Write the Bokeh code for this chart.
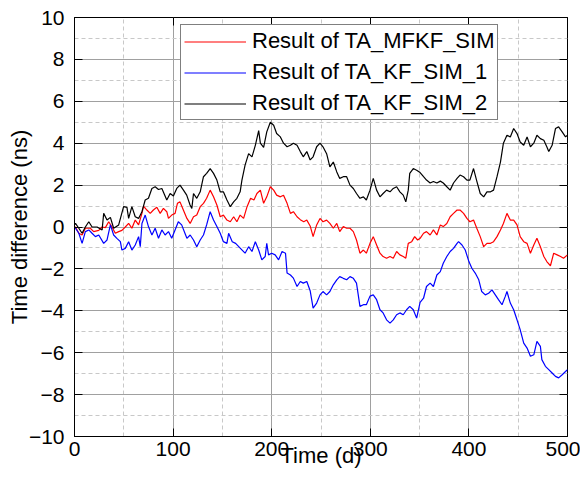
from bokeh.plotting import figure
from bokeh.models import (LinearAxis, SingleIntervalTicker, Range1d, Legend, LegendItem, CustomJSTickFormatter)
from bokeh.embed import file_html
from bokeh.resources import INLINE

# ---------------- data ----------------
mfkf_days = [0, 1, 4.4, 7.7, 11, 16, 19.5, 24.6, 28, 31.3,
             34.7, 38, 41.4, 44.8, 48.1, 51.5, 54.9, 58.2, 61.6, 65,
             68.4, 70, 73.4, 76.8, 80, 83.5, 86.9, 90.2, 93.6, 95.3,
             98.6, 102, 104.4, 107, 110.4, 114, 117.3, 120.7, 124, 127.5,
             130.8, 134, 137.6, 141, 144.4, 147.8, 151, 154.6, 158, 161.4,
             164.7, 168, 171.5, 175, 178.6, 182, 185, 188.5, 191.8, 195,
             198.6, 202, 205, 208.8, 212, 215.6, 219, 222, 225.7, 229,
             232.5, 235.6, 239, 242, 245.6, 249, 252, 255.7, 259, 262.5,
             266, 269, 272.6, 276, 279.4, 282.8, 286, 289.5, 293, 296,
             299.7, 303, 306.4, 309.8, 313, 316.5, 320, 323.3, 326.7, 330,
             333.4, 336, 338.5, 342, 345, 348, 350.5, 354, 357, 360.7,
             364, 367.5, 371, 374, 377.6, 381, 384.4, 388, 391, 394.6,
             398, 401, 404.7, 408, 411.5, 415, 418.3, 422, 425, 428.5,
             432, 435, 438.6, 442, 445.4, 448.8, 452, 455.6, 459, 462.4,
             465.8, 469, 472.5, 476, 479, 482.7, 486, 489.5, 493, 496,
             500]
mfkf_vals = [0, 0, -0.3, -0.38, -0.06, -0.06, -0.22, -0.16, 0, -0.03,
             0.25, 0, -0.3, -0.22, -0.16, 0, 0.17, -0.06, 0.33, 0.1,
             0.65, 1.0, 0.81, 0.65, 0.81, 0.94, 0.65, 0.89, 0.73, 0.41,
             0.57, 0.65, 1.13, 1.2, 0.81, 0.41, 0.17, 0.49, 0.57, 0.97,
             1.13, 1.37, 1.76, 1.44, 1.05, 0.49, 0.57, 0.33, 0.25, 0.49,
             0.25, 0.57, 0.41, 0.97, 1.37, 1.29, 1.6, 1.76, 1.13, 1.44,
             1.92, 1.76, 1.52, 1.44, 1.52, 1.13, 0.65, 0.73, 0.49, 0.35,
             0.25, 0.33, 0.05, -0.46, 0.1, 0.41, 0.25, 0.33, 0.17, -0.06,
             0.17, -0.22, 0.02, -0.06, -0.06, -0.22, -0.62, -1.25, -1.1, -1.25,
             -0.78, -0.46, -0.86, -1.25, -1.41, -1.49, -1.41, -1.49, -1.17, -1.33,
             -1.41, -1.49, -0.78, -0.7, -0.46, -0.62, -0.54, -0.3, -0.22, -0.38,
             -0.14, -0.38, 0.1, 0.02, 0.17, 0.49, 0.65, 0.81, 0.81, 0.65,
             0.41, 0.25, 0.33, -0.06, -0.46, -0.94, -0.78, -0.78, -0.7, -0.46,
             -0.14, 0.17, 0.65, 0.33, 0.33, 0.1, -0.46, -0.7, -0.78, -1.25,
             -0.86, -0.54, -0.94, -1.41, -1.65, -1.85, -1.25, -1.33, -1.41, -1.49,
             -1.33]

kf1_days = [0, 1, 4.4, 7.7, 11, 14.5, 17.8, 21.2, 24.6, 29.6,
            33, 36.4, 39.7, 43, 46.5, 48.1, 51.5, 54.9, 58.2, 61.6,
            65, 66.7, 68.4, 71.7, 75, 78.5, 81.8, 85.2, 88.6, 91.9,
            95.3, 98.6, 102, 105.3, 108.7, 112, 114, 117.3, 120.7, 124,
            127.5, 130.8, 134, 137.6, 141, 144.4, 147.8, 151, 154.6, 156.3,
            160, 163.4, 170, 173, 176.6, 180, 183.4, 186.8, 190, 193.4,
            195, 196.8, 200, 203.5, 207, 210.5, 214, 215.6, 219, 222,
            225.7, 229, 232, 235.6, 239, 242, 245.6, 249, 252, 255.7,
            259, 262.5, 266, 269, 272.6, 276, 279.4, 282.8, 286, 289.5,
            293, 296, 299.7, 303, 306.4, 309.8, 313, 316.5, 320, 323.3,
            326.7, 330, 333.4, 336.8, 340, 343.6, 347, 350.5, 354, 357,
            360.7, 364, 367.5, 371, 374, 377.6, 381, 384.4, 388, 389.5,
            393, 396.3, 400, 403, 406.4, 410, 413, 416.6, 420, 423.4,
            426.8, 430, 433.6, 437, 438.6, 442, 445.4, 448.8, 452, 455.6,
            459, 462.4, 465.8, 469, 472.5, 474, 477.6, 481, 484.4, 487.8,
            491, 494.6, 498, 500]
kf1_vals = [0, -0.06, -0.3, -0.78, -0.22, -0.14, -0.3, -0.46, -0.38, -0.78,
            -0.62, 0.1, -0.38, -0.54, -0.7, -1.1, -1.02, -0.7, -1.1, -0.86,
            -0.46, -0.94, 0.17, 0.57, 0.02, -0.38, -0.06, -0.54, -0.14, -0.38,
            -0.22, -0.54, -0.14, 0.25, 0.1, -0.3, -0.54, -0.38, -0.62, -0.94,
            -0.62, -0.38, 0.1, 0.73, 0.33, 0.02, -0.3, -0.7, -0.78, -0.3,
            -0.7, -0.78, -1.1, -1.25, -0.94, -1.17, -0.7, -1.1, -1.57, -1.41,
            -0.78, -1.33, -1.25, -1.33, -1.57, -1.17, -1.25, -2.2, -2.29, -2.44,
            -2.84, -2.6, -2.68, -2.6, -3.04, -3.87, -3.63, -3.24, -3.08, -3.24,
            -3.08, -2.76, -2.52, -2.37, -2.45, -2.52, -2.37, -2.45, -2.68, -3.79,
            -3.71, -3.71, -3.3, -3.24, -3.47, -3.95, -4.1, -4.43, -4.59, -4.43,
            -4.19, -4.1, -4.19, -3.95, -3.79, -3.95, -4.35, -3.6, -3.4, -2.84,
            -2.68, -2.84, -2.29, -2.13, -1.73, -1.41, -1.17, -1.02, -0.78, -0.7,
            -0.86, -1.1, -1.65, -1.97, -2.2, -2.52, -3.08, -3.24, -3.16, -3.0,
            -3.24, -3.47, -3.71, -3.3, -3.08, -3.63, -3.95, -4.43, -4.9, -5.54,
            -5.78, -6.17, -6.1, -5.46, -5.7, -6.33, -6.65, -6.81, -6.97, -7.13,
            -7.2, -7.05, -6.9, -6.81]

kf2_days = [0, 1, 4.4, 7.7, 11, 14.5, 17.8, 22.9, 28, 29.6,
            33, 36.4, 39.7, 44.8, 49.8, 53.2, 54.9, 58.2, 61.6, 65,
            68.4, 71.7, 75, 78.5, 81.8, 85.2, 88.6, 93.6, 97, 100.3,
            103.7, 107, 110.5, 113.8, 117.2, 119, 120.7, 124, 127.5, 130.8,
            134, 137.6, 141, 144.4, 147.8, 151, 154.6, 158, 161.4, 164.7,
            168, 169.8, 173, 176.6, 180, 183.4, 186.8, 188.5, 191.8, 195,
            198.6, 202, 205, 208.8, 212, 215.6, 219, 222, 225.7, 229,
            232, 235.6, 239, 242, 245.6, 249, 252, 255.7, 259, 262.5,
            266, 269, 272.6, 276, 279.4, 282.8, 286, 289.5, 293, 296,
            299.7, 303, 306.4, 309.8, 313, 316.5, 320, 323.3, 326.7, 330,
            333.4, 336, 338.5, 340, 343.6, 347, 350.5, 354, 357, 360.7,
            364, 367.5, 371, 374, 377.6, 381, 384.4, 388, 391, 394.6,
            398, 401, 404.7, 408, 411.5, 415, 418.3, 422, 425, 428.5,
            432, 435, 438.6, 442, 445.4, 448.8, 452, 455.6, 459, 462.4,
            465.8, 469, 472.5, 476, 479, 481, 484.4, 487.8, 491, 494.6,
            498, 500]
kf2_vals = [0.1, 0.17, -0.06, -0.3, 0, 0.25, 0, 0, -0.14, 0.65,
            0.33, 0.46, -0.06, 0.1, 0.97, 0.94, 0.41, 0.97, 0.49, 0.41,
            0.73, 1.29, 1.37, 1.84, 1.92, 1.79, 1.84, 1.29, 1.6, 1.48,
            1.84, 2.0, 1.76, 1.52, 1.05, 0.89, 1.6, 1.37, 1.68, 2.4,
            2.56, 2.79, 2.56, 2.24, 1.68, 1.68, 1.29, 0.97, 1.2, 1.37,
            1.68, 2.24, 2.95, 3.5, 3.35, 3.9, 4.6, 4.0, 3.8, 4.54,
            5.0, 4.86, 4.46, 4.3, 4.0, 3.83, 3.9, 4.0, 3.9, 3.6,
            3.35, 3.6, 3.2, 3.35, 3.83, 4.0, 3.83, 3.5, 2.87, 3.1,
            2.63, 2.32, 2.4, 2.4, 2.0, 1.84, 1.6, 1.37, 1.44, 1.29,
            1.76, 2.32, 1.76, 1.44, 1.6, 1.76, 1.68, 1.84, 1.92, 1.68,
            1.52, 1.2, 1.76, 2.56, 2.79, 2.71, 2.6, 2.4, 2.24, 2.1,
            2.17, 2.1, 2.19, 2.1, 1.92, 1.76, 2.1, 2.32, 2.48, 2.4,
            2.24, 2.24, 2.79, 2.19, 1.6, 1.44, 1.68, 1.68, 1.76, 2.4,
            3.1, 4.0, 4.38, 4.3, 4.7, 4.46, 4.06, 3.9, 4.3, 3.83,
            4.0, 4.38, 4.22, 4.14, 3.83, 3.6, 3.9, 4.7, 4.78, 4.54,
            4.3, 4.38]

series_names = ["Result of TA_MFKF_SIM", "Result of TA_KF_SIM_1", "Result of TA_KF_SIM_2"]
series_colors = ["#ff0000", "#0000ff", "#000000"]

y_ticks = [-10, -8, -6, -4, -2, 0, 2, 4, 6, 8, 10]
y_tick_labels = ["\u221210", "\u22128", "\u22126", "\u22124", "\u22122", "0", "2", "4", "6", "8", "10"]

x_label = "Time (d)"
y_label = "Time difference (ns)"

FONT = "Liberation Sans"
FS = "21px"

# ---------------- figure ----------------
p = figure(width=580, height=490, output_backend="svg", toolbar_location=None,
           x_range=Range1d(0, 500), y_range=Range1d(-10, 10),
           min_border_left=74, min_border_right=13, min_border_top=17, min_border_bottom=54,
           x_axis_label=x_label, y_axis_label=y_label)
p.outline_line_color = "black"
p.outline_line_width = 1
p.background_fill_color = "white"
p.border_fill_color = "white"

p.xaxis.ticker = SingleIntervalTicker(interval=100, num_minor_ticks=2)
p.yaxis.ticker = SingleIntervalTicker(interval=2, num_minor_ticks=2)
p.yaxis.major_label_overrides = {t: l for t, l in zip(y_ticks, y_tick_labels)}

for ax in [p.xaxis[0], p.yaxis[0]]:
    ax.axis_line_color = "black"
    ax.major_tick_in = 8
    ax.major_tick_out = 0
    ax.minor_tick_in = 0
    ax.minor_tick_out = 0
    ax.major_tick_line_color = "black"
    ax.major_label_text_font = FONT
    ax.major_label_text_font_size = FS
    ax.major_label_text_color = "black"
    ax.axis_label_text_font = FONT
    ax.axis_label_text_font_size = "22px"
    ax.axis_label_text_font_style = "normal"
    ax.axis_label_text_color = "black"

p.yaxis.major_label_standoff = 10
p.yaxis.axis_label_standoff = -6
p.xaxis.major_label_standoff = 5
p.xaxis.axis_label_standoff = -16

# mirrored ticks on top and right (no labels)
blank = CustomJSTickFormatter(code="return ''")
top_ax = LinearAxis(ticker=SingleIntervalTicker(interval=100, num_minor_ticks=2), formatter=blank)
right_ax = LinearAxis(ticker=SingleIntervalTicker(interval=2, num_minor_ticks=2), formatter=blank)
for ax in [top_ax, right_ax]:
    ax.axis_line_color = None
    ax.major_tick_in = 8
    ax.major_tick_out = 0
    ax.minor_tick_in = 0
    ax.minor_tick_out = 0
    ax.major_tick_line_color = "black"
    ax.major_label_standoff = 0
p.add_layout(top_ax, "above")
p.add_layout(right_ax, "right")

# grid
for g in [p.xgrid[0], p.ygrid[0]]:
    g.grid_line_color = "#a0a0a0"
    g.grid_line_width = 1
    g.minor_grid_line_color = "#c8c8c8"
    g.minor_grid_line_dash = "4 3"
    g.minor_grid_line_width = 1

# lines
r1 = p.line(mfkf_days, mfkf_vals, line_color=series_colors[0], line_width=1.2)
r2 = p.line(kf1_days, kf1_vals, line_color=series_colors[1], line_width=1.2)
r3 = p.line(kf2_days, kf2_vals, line_color=series_colors[2], line_width=1.2)

legend = Legend(items=[LegendItem(label=series_names[0], renderers=[r1]),
                       LegendItem(label=series_names[1], renderers=[r2]),
                       LegendItem(label=series_names[2], renderers=[r3])],
                location=(106, 316))
legend.label_text_font = FONT
legend.label_text_font_size = "22px"
legend.label_text_color = "black"
legend.label_height = 23
legend.glyph_height = 23
legend.glyph_width = 62
legend.label_standoff = 6
legend.spacing = 5
legend.padding = 3
legend.margin = 0
legend.border_line_color = "black"
legend.border_line_width = 1
legend.background_fill_alpha = 1
legend.background_fill_color = "white"
p.add_layout(legend, "center")

open("out.html", "w").write(file_html(p, INLINE))
